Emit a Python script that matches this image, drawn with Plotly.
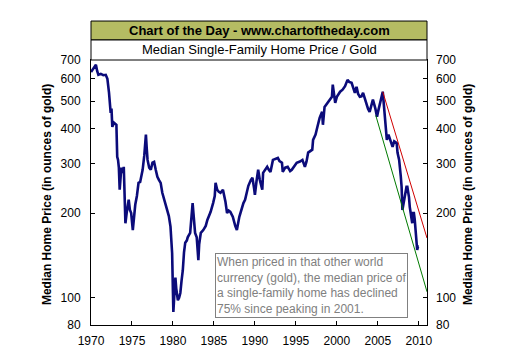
import math
import plotly.graph_objects as go

years = [1970.0, 1970.2, 1970.4, 1970.6, 1970.75, 1970.9, 1971.2, 1971.5, 1971.8, 1972.0,
         1972.2, 1972.4, 1972.5, 1972.6, 1972.8, 1973.0, 1973.1, 1973.2, 1973.3, 1973.4,
         1973.5, 1973.7, 1973.9, 1974.0, 1974.1, 1974.2, 1974.35, 1974.5, 1974.6, 1974.75,
         1974.9, 1975.1, 1975.2, 1975.4, 1975.6, 1975.8, 1976.0, 1976.3, 1976.5, 1976.7,
         1976.8, 1976.9, 1977.1, 1977.3, 1977.5, 1977.7, 1977.9, 1978.1, 1978.3, 1978.5,
         1978.7, 1978.9, 1979.1, 1979.3, 1979.5, 1979.7, 1979.8, 1979.9, 1980.0, 1980.05,
         1980.15, 1980.3, 1980.4, 1980.5, 1980.6, 1980.75, 1980.9, 1981.05, 1981.2, 1981.35,
         1981.5, 1981.7, 1981.8, 1982.1, 1982.3, 1982.4, 1982.5, 1982.7, 1982.9, 1983.0,
         1983.1, 1983.2, 1983.4, 1983.7, 1984.0, 1984.2, 1984.6, 1984.9, 1985.1, 1985.2,
         1985.4, 1985.6, 1985.8, 1986.1, 1986.4, 1986.6, 1986.8, 1987.0, 1987.3, 1987.6,
         1987.8, 1988.1, 1988.3, 1988.6, 1988.8, 1989.0, 1989.2, 1989.5, 1989.7, 1989.9,
         1990.0, 1990.2, 1990.4, 1990.6, 1990.9, 1991.0, 1991.3, 1991.5, 1991.7, 1991.9,
         1992.2, 1992.5, 1992.8, 1993.0, 1993.3, 1993.4, 1993.7, 1994.0, 1994.3, 1994.5,
         1994.8, 1995.1, 1995.5, 1995.8, 1996.1, 1996.3, 1996.5, 1996.8, 1997.0, 1997.1,
         1997.4, 1997.6, 1997.9, 1998.2, 1998.3, 1998.5, 1998.9, 1999.2, 1999.4, 1999.5,
         1999.8, 2000.0, 2000.4, 2000.7, 2001.0, 2001.3, 2001.5, 2001.8, 2002.0, 2002.2,
         2002.4, 2002.6, 2002.8, 2003.0, 2003.2, 2003.4, 2003.6, 2003.8, 2004.0, 2004.2,
         2004.4, 2004.7, 2004.9, 2005.0, 2005.2, 2005.4, 2005.6, 2005.7, 2005.8, 2006.0,
         2006.1, 2006.3, 2006.4, 2006.6, 2006.8, 2007.0, 2007.3, 2007.4, 2007.6, 2007.8,
         2007.9, 2008.0, 2008.2, 2008.4, 2008.5, 2008.6, 2008.8, 2008.9, 2009.1, 2009.2,
         2009.3, 2009.4, 2009.5, 2009.6, 2009.7, 2009.8, 2009.9, 2010.0]

price_gold = [635, 646, 660, 673, 640, 620, 625, 618, 620, 600,
              535, 454, 470, 405, 419, 415, 412, 317, 309, 290,
              242, 290, 278, 292, 242, 184, 200, 217, 223, 205,
              200, 174, 189, 214, 230, 256, 258, 285, 320, 380,
              340, 309, 290, 285, 302, 304, 285, 269, 262, 256,
              236, 225, 217, 205, 195, 179, 160, 144, 104, 89,
              100, 118, 108, 104, 98, 100, 104, 115, 125, 145,
              157, 160, 164, 170, 210, 217, 200, 170, 164, 150,
              136, 155, 170, 174, 180, 189, 202, 217, 230, 256,
              242, 238, 236, 242, 220, 200, 204, 202, 194, 180,
              174, 194, 205, 217, 223, 235, 250, 262, 267, 245,
              232, 260, 285, 262, 242, 278, 288, 292, 285, 280,
              309, 312, 314, 306, 302, 280, 290, 292, 282, 285,
              292, 302, 305, 309, 292, 305, 328, 332, 336, 364,
              380, 402, 436, 458, 412, 477, 493, 505, 518, 572,
              493, 518, 540, 549, 565, 595, 585, 581, 560, 535,
              562, 530, 518, 520, 535, 510, 493, 470, 458, 485,
              506, 470, 440, 455, 477, 510, 540, 500, 466, 400,
              364, 380, 373, 355, 344, 360, 355, 328, 309, 270,
              248, 205, 225, 240, 248, 248, 228, 210, 194, 184,
              200, 200, 190, 170, 160, 148, 152, 152]

red_trend_x = [2005.6, 2011.0]
red_trend_y = [540, 163]
green_trend_x = [2004.75, 2011.0]
green_trend_y = [445, 105]

x_ticks = [1970, 1975, 1980, 1985, 1990, 1995, 2000, 2005, 2010]
y_ticks = [80, 100, 200, 300, 400, 500, 600, 700]

title_text = "Chart of the Day - www.chartoftheday.com"
subtitle_text = "Median Single-Family Home Price / Gold"
axis_title = "Median Home Price (in ounces of gold)"
note_lines = ["When priced in that other world",
              "currency (gold), the median price of",
              "a single-family home has declined",
              "75% since peaking in 2001."]

FONT = "Arial, Liberation Sans, sans-serif"

fig = go.Figure()
fig.add_trace(go.Scatter(x=years, y=price_gold, mode="lines",
                         line=dict(color="#0b0b7a", width=2.6), hoverinfo="skip"))
fig.add_trace(go.Scatter(x=red_trend_x, y=red_trend_y, mode="lines",
                         line=dict(color="#d00000", width=1), hoverinfo="skip"))
fig.add_trace(go.Scatter(x=green_trend_x, y=green_trend_y, mode="lines",
                         line=dict(color="#007a00", width=1), hoverinfo="skip"))
fig.add_trace(go.Scatter(x=[1970], y=[100], yaxis="y2", mode="markers",
                         marker=dict(opacity=0), hoverinfo="skip"))

yr = [math.log10(80), math.log10(700)]

fig.update_layout(
    width=512, height=353,
    margin=dict(l=91, r=85, t=60, b=28, autoexpand=False),
    paper_bgcolor="white", plot_bgcolor="white",
    showlegend=False,
    font=dict(family=FONT, size=12, color="black"),
    xaxis=dict(range=[1970, 2011], tickvals=x_ticks, ticks="inside", ticklen=4,
               tickcolor="black", showline=True, linecolor="black", linewidth=1,
               mirror=True, showgrid=False, zeroline=False, ticklabelstandoff=5,
               automargin=False, tickfont=dict(size=12, family=FONT)),
    yaxis=dict(type="log", range=yr, tickvals=y_ticks, ticktext=[str(v) for v in y_ticks],
               ticks="inside", ticklen=4, tickcolor="black", showline=True,
               linecolor="black", linewidth=1, mirror=True, showgrid=False,
               zeroline=False, ticklabelstandoff=7, automargin=False,
               tickfont=dict(size=12, family=FONT)),
    yaxis2=dict(type="log", range=yr, tickvals=y_ticks, ticktext=[str(v) for v in y_ticks],
                overlaying="y", side="right", ticks="inside", ticklen=4,
                tickcolor="black", showline=False, showgrid=False, zeroline=False,
                ticklabelstandoff=8, automargin=False, tickfont=dict(size=12, family=FONT)),
)

# header boxes
fig.add_shape(type="rect", xref="paper", yref="paper", x0=0, x1=1, y0=1.0755, y1=1.147,
              fillcolor="#b5bc63", line=dict(color="black", width=1), layer="above")
fig.add_shape(type="rect", xref="paper", yref="paper", x0=0, x1=1, y0=1.0, y1=1.0755,
              fillcolor="white", line=dict(color="black", width=1), layer="above")
fig.add_annotation(xref="paper", yref="paper", x=0.5, y=1.111, text="<b>" + title_text + "</b>",
                   showarrow=False, font=dict(size=13, family=FONT, color="black"),
                   xanchor="center", yanchor="middle")
fig.add_annotation(xref="paper", yref="paper", x=0.5, y=1.038, text=subtitle_text,
                   showarrow=False, font=dict(size=13, family=FONT, color="black"),
                   xanchor="center", yanchor="middle")

# axis titles
fig.add_annotation(xref="paper", yref="paper", x=-0.131, y=0.494, text="<b>" + axis_title + "</b>",
                   textangle=-90, showarrow=False, font=dict(size=12, family=FONT),
                   xanchor="center", yanchor="middle")
fig.add_annotation(xref="paper", yref="paper", x=1.122, y=0.494, text="<b>" + axis_title + "</b>",
                   textangle=-90, showarrow=False, font=dict(size=12, family=FONT),
                   xanchor="center", yanchor="middle")

# note box
fig.add_annotation(xref="paper", yref="paper", x=0.369, y=0.272, text="<br>".join(note_lines),
                   showarrow=False, align="left", xanchor="left", yanchor="top",
                   font=dict(size=12, family=FONT, color="#808080"),
                   bordercolor="#808080", borderwidth=1, borderpad=1, bgcolor="white")

fig.write_html("out.html")
